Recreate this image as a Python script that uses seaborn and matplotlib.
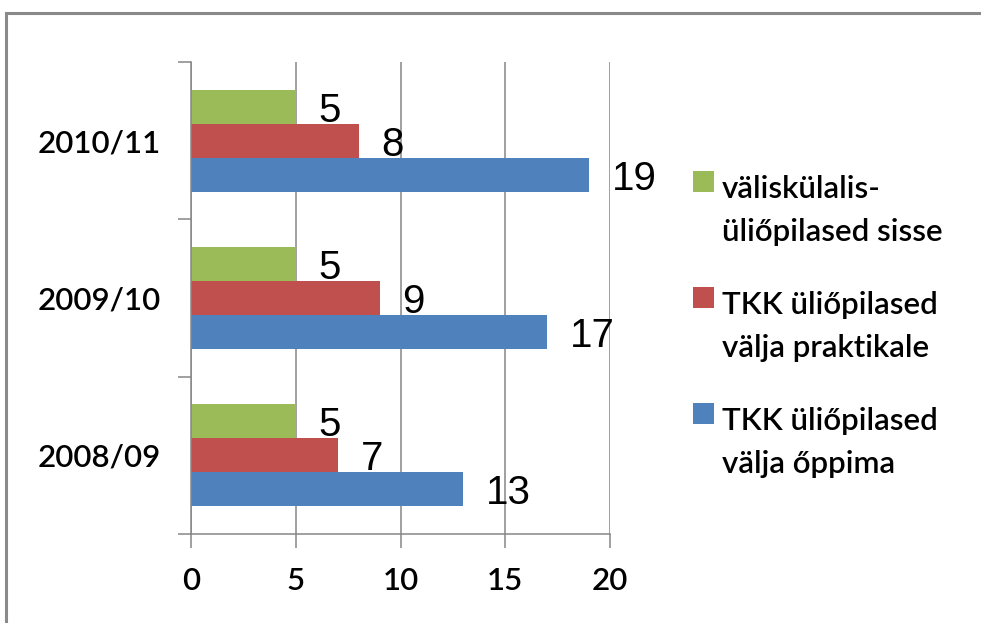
import matplotlib
matplotlib.use('Agg')
import matplotlib.pyplot as plt
import seaborn as sns
import pandas as pd
from matplotlib.patches import Rectangle
from matplotlib.legend_handler import HandlerPatch

years = ['2010/11', '2009/10', '2008/09']
series = ['väliskülalis-\nüliőpilased sisse',
          'TKK üliőpilased\nvälja praktikale',
          'TKK üliőpilased\nvälja őppima']
incoming = [5, 5, 5]
practice = [8, 9, 7]
study = [19, 17, 13]
colors = ['#9BBB59', '#C0504D', '#4F81BD']
xticks = [0, 5, 10, 15, 20]

rows = []
for s, vals in zip(series, [incoming, practice, study]):
    for y, v in zip(years, vals):
        rows.append({'year': y, 'series': s, 'value': v})
df = pd.DataFrame(rows)

GRAY = '#868686'
W, H = 981, 623
fig = plt.figure(figsize=(W / 100, H / 100), dpi=100)
ax = fig.add_axes([191 / W, 1 - 534 / H, (610 - 191) / W, (534 - 62) / H])

sns.barplot(data=df, x='value', y='year', hue='series', order=years,
            hue_order=series, palette=colors, orient='h', width=0.65,
            saturation=1, ax=ax, linewidth=0)
if ax.get_legend() is not None:
    ax.get_legend().remove()

ax.set_xlim(0, 20)
ax.set_ylim(2.5, -0.5)
ax.set_xticks(xticks)
ax.set_xlabel('')
ax.set_ylabel('')
ax.set_axisbelow(True)
ax.xaxis.grid(True, color=GRAY, lw=1.1)
for sp in ['top', 'right']:
    ax.spines[sp].set_visible(False)
for sp in ['left', 'bottom']:
    ax.spines[sp].set_color(GRAY)
    ax.spines[sp].set_linewidth(1.1)

FS = 22.5
tickfont = 'Lato'
WEIGHT = 'semibold'
ax.tick_params(axis='x', length=10, width=1.1, color=GRAY, pad=14,
               labelsize=FS, labelcolor='black')
ax.tick_params(axis='y', which='major', length=0, pad=22, labelsize=FS,
               labelcolor='black')
ax.set_yticks([-0.5, 0.5, 1.5, 2.5], minor=True)
ax.tick_params(axis='y', which='minor', length=9.5, width=1.1, color=GRAY)
for lab in ax.get_xticklabels() + ax.get_yticklabels():
    lab.set_family(tickfont)
    lab.set_weight(WEIGHT)

for cont in ax.containers:
    anns = ax.bar_label(cont, padding=16.5, fontsize=29, family='Liberation Sans')
    for a in anns:
        a.set_va('center_baseline')

SQ = 15.0
OFF = 21.0


def sq(legend, orig_handle, xdescent, ydescent, width, height, fontsize):
    cy = -ydescent + height / 2 + OFF
    return Rectangle((-xdescent, cy - SQ / 2), SQ, SQ)


handles = [Rectangle((0, 0), 1, 1, facecolor=c, edgecolor='none') for c in colors]
leg = fig.legend(handles, series,
                 handler_map={Rectangle: HandlerPatch(patch_func=sq)},
                 loc='upper left', bbox_to_anchor=(693 / W, 1 - 175 / H),
                 frameon=False,
                 prop={'family': tickfont, 'size': FS, 'weight': WEIGHT},
                 handlelength=SQ / FS, handletextpad=0.26, labelspacing=1.45,
                 borderpad=0, borderaxespad=0)
for t in leg.get_texts():
    t.set_linespacing(1.64)

fig.add_artist(Rectangle((5.5 / W, -0.1), 1.2, (H - 13.5) / H + 0.1,
                         transform=fig.transFigure, fill=False,
                         edgecolor='#8a8a8a', lw=2.2))

fig.savefig('out.png', dpi=100)
